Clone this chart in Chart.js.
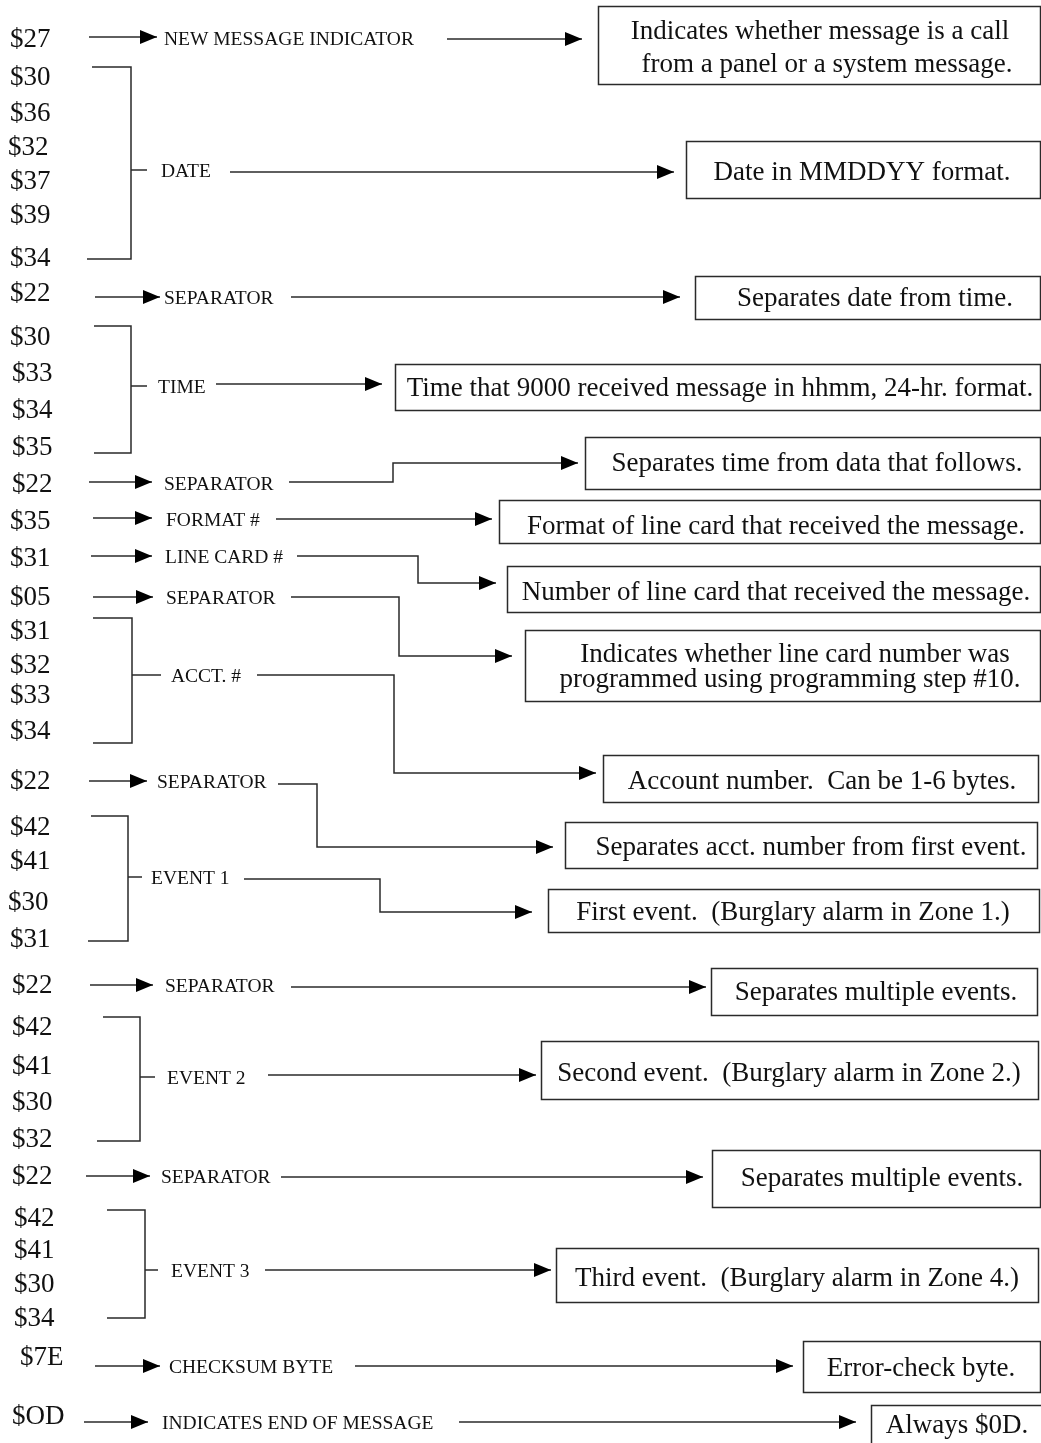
<!DOCTYPE html>
<html>
<head>
<meta charset="utf-8">
<title>Message format</title>
<script src="https://cdn.jsdelivr.net/npm/chart.js@4.4.1/dist/chart.umd.min.js"></script>
<style>
  html, body { margin: 0; padding: 0; background: #fff; }
  #diagram { display: block; }
</style>
</head>
<body>
<canvas id="diagram" width="1041" height="1443"></canvas>
<script>
// byte column (left)
const byteCodes = ['$27', '$30', '$36', '$32', '$37', '$39', '$34', '$22', '$30', '$33', '$34', '$35',
  '$22', '$35', '$31', '$05', '$31', '$32', '$33', '$34', '$22', '$42', '$41', '$30', '$31',
  '$22', '$42', '$41', '$30', '$32', '$22', '$42', '$41', '$30', '$34', '$7E', '$OD'];
const byteX = [10, 10, 10, 8, 10, 10, 10, 10, 10, 12, 12, 12,
  12, 10, 10, 10, 10, 10, 10, 10, 10, 10, 10, 8, 10,
  12, 12, 12, 12, 12, 12, 14, 14, 14, 14, 20, 12];
const byteY = [38, 76, 112, 146, 180, 214, 257, 292, 336, 372, 409, 446,
  483, 520, 557, 596, 630, 664, 694, 730, 780, 826, 860, 901, 938,
  984, 1026, 1065, 1101, 1138, 1175, 1217, 1249, 1283, 1317, 1356, 1415];

// field names (middle)
const fieldNames = ['NEW MESSAGE INDICATOR', 'DATE', 'SEPARATOR', 'TIME', 'SEPARATOR', 'FORMAT #',
  'LINE CARD #', 'SEPARATOR', 'ACCT. #', 'SEPARATOR', 'EVENT 1', 'SEPARATOR', 'EVENT 2',
  'SEPARATOR', 'EVENT 3', 'CHECKSUM BYTE', 'INDICATES END OF MESSAGE'];
const fieldX = [164, 161, 164, 158, 164, 166, 165, 166, 171, 157, 151, 165, 167, 161, 171, 169, 162];
const fieldY = [38, 170, 297, 386, 483, 519, 556, 597, 675, 781, 877, 985, 1077, 1176, 1270, 1366, 1422];

// single-byte arrows: byte -> field  [fromX, toX, y]
const byteArrows = [
  [89, 157, 37], [95, 160, 297], [89, 152, 482], [93, 152, 518], [91, 152, 556],
  [93, 153, 597], [89, 147, 781], [90, 153, 985], [86, 150, 1176], [95, 160, 1366], [84, 148, 1422]
];

// brackets [leftTopX, leftBottomX, spineX, topY, bottomY, tickEndX, tickY]
const brackets = [
  [92, 87, 131, 67, 259, 147, 170],
  [94, 94, 131, 326, 453, 147, 386],
  [93, 93, 132, 618, 743, 161, 675],
  [91, 88, 128, 816, 941, 142, 877],
  [103, 97, 140, 1017, 1141, 155, 1077],
  [107, 107, 145, 1210, 1318, 158, 1270]
];

// field -> description connectors (polylines, last point = arrow tip)
const connectors = [
  [[447, 39], [582, 39]],
  [[230, 172], [674, 172]],
  [[291, 297], [680, 297]],
  [[216, 384], [382, 384]],
  [[289, 482], [393, 482], [393, 463], [578, 463]],
  [[276, 519], [492, 519]],
  [[297, 556], [418, 556], [418, 583], [496, 583]],
  [[291, 597], [399, 597], [399, 656], [512, 656]],
  [[257, 675], [394, 675], [394, 773], [596, 773]],
  [[278, 784], [317, 784], [317, 847], [553, 847]],
  [[244, 879], [380, 879], [380, 912], [532, 912]],
  [[291, 987], [706, 987]],
  [[268, 1075], [536, 1075]],
  [[281, 1177], [703, 1177]],
  [[265, 1270], [551, 1270]],
  [[355, 1366], [793, 1366]],
  [[459, 1422], [856, 1422]]
];

// description boxes (right)
const descLines = [
  ['Indicates whether message is a call', 'from a panel or a system message.'],
  ['Date in MMDDYY format.'],
  ['Separates date from time.'],
  ['Time that 9000 received message in hhmm, 24-hr. format.'],
  ['Separates time from data that follows.'],
  ['Format of line card that received the message.'],
  ['Number of line card that received the message.'],
  ['Indicates whether line card number was', 'programmed using programming step #10.'],
  ['Account number.  Can be 1-6 bytes.'],
  ['Separates acct. number from first event.'],
  ['First event.  (Burglary alarm in Zone 1.)'],
  ['Separates multiple events.'],
  ['Second event.  (Burglary alarm in Zone 2.)'],
  ['Separates multiple events.'],
  ['Third event.  (Burglary alarm in Zone 4.)'],
  ['Error-check byte.'],
  ['Always $0D.']
];
const descBoxes = [
  [598, 6, 1040, 84], [686, 141, 1040, 198], [695, 276, 1040, 319], [395, 364, 1040, 410],
  [585, 437, 1040, 489], [499, 500, 1040, 543], [507, 566, 1040, 612], [525, 630, 1040, 701],
  [603, 755, 1038, 802], [565, 822, 1037, 868], [548, 889, 1039, 932], [711, 968, 1037, 1015],
  [541, 1041, 1038, 1099], [712, 1150, 1040, 1207], [556, 1248, 1038, 1302], [803, 1341, 1040, 1392],
  [871, 1405, 1045, 1450]
];
const descCenterX = [[820, 827], [862], [875], [720], [817], [776], [776], [795, 790],
  [822], [811], [793], [876], [789], [882], [797], [921], [957]];
const descTextY = [[30, 63], [171], [297], [387], [462], [525], [591], [653, 678],
  [780], [846], [911], [991], [1072], [1177], [1277], [1367], [1424]];

const INK = '#2a2a2a';
const SERIF = '"Liberation Serif", "Times New Roman", serif';

// build line datasets from the arrays
const datasets = [];
byteArrows.forEach(a => {
  datasets.push({ data: [{ x: a[0], y: a[2] }, { x: a[1], y: a[2] }], arrow: true });
});
brackets.forEach(b => {
  datasets.push({ data: [{ x: b[0], y: b[3] }, { x: b[2], y: b[3] }, { x: b[2], y: b[4] }, { x: b[1], y: b[4] }] });
  datasets.push({ data: [{ x: b[2], y: b[6] }, { x: b[5], y: b[6] }] });
});
connectors.forEach(c => {
  datasets.push({ data: c.map(p => ({ x: p[0], y: p[1] })), arrow: true });
});
datasets.forEach(d => {
  d.showLine = true;
  d.borderColor = INK;
  d.borderWidth = 1.5;
  d.pointRadius = 0;
  d.fill = false;
  d.tension = 0;
});

// arrowheads, boxes and text
const diagramPlugin = {
  id: 'diagram',
  beforeDatasetsDraw(chart) {
    const { ctx, scales: { x, y } } = chart;
    ctx.save();
    ctx.strokeStyle = INK;
    ctx.lineWidth = 1.5;
    descBoxes.forEach(b => {
      const l = x.getPixelForValue(b[0]), t = y.getPixelForValue(b[1]);
      const r = x.getPixelForValue(b[2]), bt = y.getPixelForValue(b[3]);
      ctx.strokeRect(Math.round(l) + 0.5, Math.round(t) + 0.5, r - l, bt - t);
    });
    ctx.restore();
  },
  afterDatasetsDraw(chart) {
    const { ctx, scales: { x, y } } = chart;
    ctx.save();
    ctx.fillStyle = '#000';
    chart.data.datasets.forEach(d => {
      if (!d.arrow) return;
      const p = d.data[d.data.length - 1];
      const tx = x.getPixelForValue(p.x), ty = y.getPixelForValue(p.y);
      ctx.beginPath();
      ctx.moveTo(tx, ty);
      ctx.lineTo(tx - 17, ty - 7);
      ctx.lineTo(tx - 17, ty + 7);
      ctx.closePath();
      ctx.fill();
    });

    ctx.fillStyle = '#111';
    ctx.textBaseline = 'middle';
    const dy = 1.5; // nudge so glyphs sit centred on their row

    ctx.textAlign = 'left';
    ctx.font = '27px ' + SERIF;
    byteCodes.forEach((c, i) => {
      ctx.fillText(c, x.getPixelForValue(byteX[i]), y.getPixelForValue(byteY[i]) + dy);
    });

    ctx.font = '19.5px ' + SERIF;
    fieldNames.forEach((f, i) => {
      ctx.fillText(f, x.getPixelForValue(fieldX[i]), y.getPixelForValue(fieldY[i]) + dy);
    });

    ctx.textAlign = 'center';
    ctx.font = '27px ' + SERIF;
    descLines.forEach((lines, i) => {
      lines.forEach((s, j) => {
        ctx.fillText(s, x.getPixelForValue(descCenterX[i][j]), y.getPixelForValue(descTextY[i][j]) + dy);
      });
    });
    ctx.restore();
  }
};

new Chart(document.getElementById('diagram'), {
  type: 'scatter',
  data: { datasets },
  options: {
    responsive: false,
    devicePixelRatio: 1,
    animation: false,
    layout: { padding: 0 },
    clip: false,
    scales: {
      x: { type: 'linear', min: 0, max: 1041, display: false },
      y: { type: 'linear', min: 0, max: 1443, reverse: true, display: false }
    },
    plugins: {
      legend: { display: false },
      tooltip: { enabled: false }
    }
  },
  plugins: [diagramPlugin]
});
</script>
</body>
</html>
